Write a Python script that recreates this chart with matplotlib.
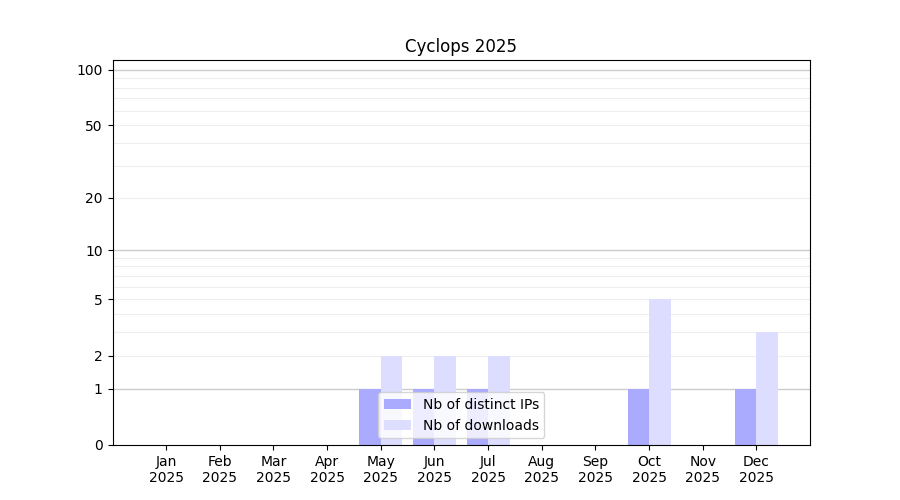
import numpy as np
import matplotlib
matplotlib.use('Agg')
import matplotlib.pyplot as plt

months = ['Jan', 'Feb', 'Mar', 'Apr', 'May', 'Jun', 'Jul', 'Aug', 'Sep', 'Oct', 'Nov', 'Dec']
year = '2025'
distinct_ips = [0, 0, 0, 0, 1, 1, 1, 0, 0, 1, 0, 1]
downloads = [0, 0, 0, 0, 2, 2, 2, 0, 0, 5, 0, 3]

yticks = [0, 1, 2, 5, 10, 20, 50, 100]
major_grid = [1, 10, 100]
minor_grid = [2, 3, 4, 5, 6, 7, 8, 9, 20, 30, 40, 50, 60, 70, 80, 90]


def fwd(y):
    return np.log10(1 + np.clip(y, 0, None))


def inv(y):
    return 10 ** y - 1


fig, ax = plt.subplots(figsize=(9, 5), dpi=100)
x = np.arange(len(months))

ax.set_yscale('function', functions=(fwd, inv))

for v in minor_grid:
    ax.axhline(v, color='#eeeeee', linewidth=0.8, zorder=0)
for v in major_grid:
    ax.axhline(v, color='#cccccc', linewidth=1.0, zorder=0)

ax.bar(x - 0.2, distinct_ips, width=0.4, color='#aaaaff', label='Nb of distinct IPs', zorder=2)
ax.bar(x + 0.2, downloads, width=0.4, color='#ddddff', label='Nb of downloads', zorder=2)

ax.set_xticks(x)
ax.set_xticklabels([m + '\n' + year for m in months])
ax.set_xlim(-1, 12)

ax.set_yticks(yticks)
ax.set_yticklabels([str(t) for t in yticks])
ax.yaxis.set_minor_locator(matplotlib.ticker.NullLocator())
ax.set_ylim(0, 113)

ax.set_title('Cyclops 2025')
ax.legend(loc='lower center')

plt.savefig('out.png', dpi=100)
